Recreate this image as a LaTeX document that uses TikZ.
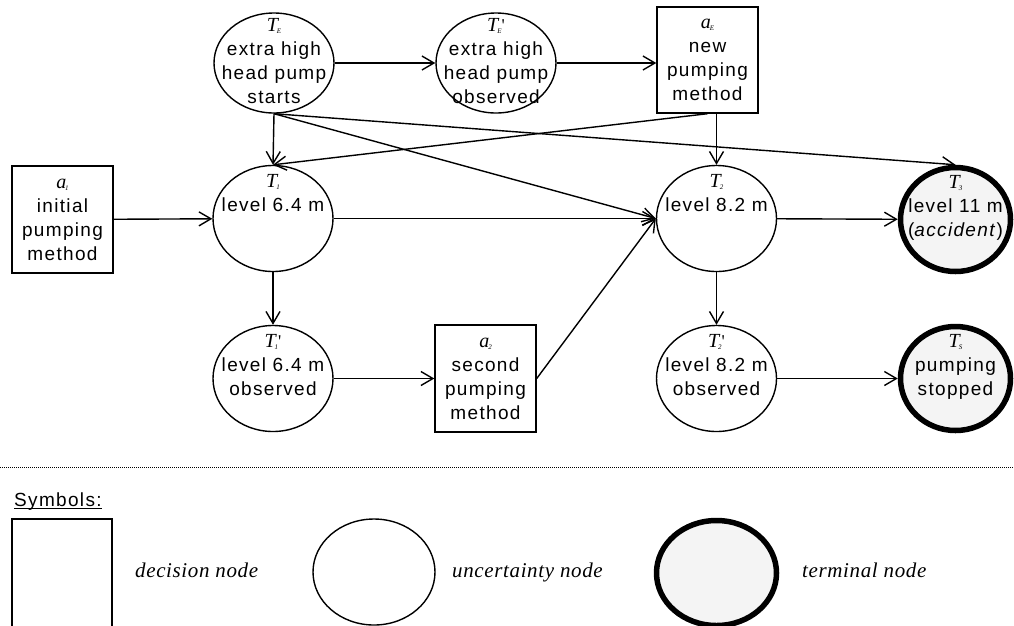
\documentclass[tikz,border=0pt]{standalone}
\usepackage{fontspec}
\setmainfont{Liberation Sans}[LetterSpace=7]
\newfontfamily\lblfont{Liberation Serif}
\newfontfamily\legfont{Liberation Serif}[LetterSpace=3]
\usetikzlibrary{shapes.geometric,arrows.meta}
\definecolor{termgray}{HTML}{F4F4F4}
% variable name: italic serif letter with a small subscript
\newcommand\sym[2]{{\lblfont\itshape\fontsize{20}{20}\selectfont #1}\kern-1pt\raisebox{-2pt}{\lblfont\itshape\fontsize{7}{7}\selectfont #2}}
\newcommand\symp[2]{\sym{#1}{#2}{\lblfont\fontsize{18}{18}\selectfont\textquotesingle}}
\begin{document}
\begin{tikzpicture}[x=1pt,y=-1pt,
  txt/.style={font=\fontsize{19}{24}\selectfont, align=center, inner sep=0pt},
  unc/.style={ellipse, draw, line width=1.4pt, inner sep=0pt, minimum width=120pt, minimum height=106pt},
  term/.style={ellipse, draw, line width=5.5pt, fill=termgray, inner sep=0pt, minimum width=110pt, minimum height=104pt},
  dec/.style={rectangle, draw, line width=1.4pt, inner sep=0pt, minimum width=101pt, minimum height=106pt},
  arr/.style={line width=1.4pt, -{Straight Barb[length=12pt,width=14pt,line width=1.4pt]}},
  legtxt/.style={font=\legfont\itshape\fontsize{21}{24}\selectfont, inner sep=0pt, anchor=base west}
]
\useasboundingbox (0,0) rectangle (1014,625);

% --- decision and uncertainty nodes of the diagram ---
\node[unc, minimum height=100pt] (TE) at (274,63) {};
\node[txt] (TEt) at (TE) {\sym{T}{E}\strut\\extra high\strut\\head pump\strut\\starts\strut};
\node[unc, minimum height=100pt] (TEp) at (496,63) {};
\node[txt] (TEpt) at (TEp) {\symp{T}{E}\strut\\extra high\strut\\head pump\strut\\observed\strut};
\node[dec] (aE) at (707.5,60) {};
\node[txt] (aEt) at (aE) {\sym{a}{E}\strut\\new\strut\\pumping\strut\\method\strut};

\node[dec, minimum height=107pt] (a1) at (62.5,219.5) {};
\node[txt] (a1t) at (a1) {\sym{a}{1}\strut\\initial\strut\\pumping\strut\\method\strut};
\node[unc] (T1) at (273,218.5) {};
\node[txt] (T1t) at (T1) {\sym{T}{1}\strut\\level 6.4 m\strut\\\strut\\\strut};
\node[unc] (T2) at (716.5,218.5) {};
\node[txt] (T2t) at (T2) {\sym{T}{2}\strut\\level 8.2 m\strut\\\strut\\\strut};
\node[term] (T3) at (955.5,219.5) {};
\node[txt] (T3t) at (T3) {\sym{T}{3}\strut\\level 11 m\strut\\(\textit{accident})\strut\\\strut};

\node[unc] (T1p) at (273,378.5) {};
\node[txt] (T1pt) at (T1p) {\symp{T}{1}\strut\\level 6.4 m\strut\\observed\strut\\\strut};
\node[dec, minimum height=107pt] (a2) at (485.5,378.5) {};
\node[txt] (a2t) at (a2) {\sym{a}{2}\strut\\second\strut\\pumping\strut\\method\strut};
\node[unc] (T2p) at (716.5,378.5) {};
\node[txt] (T2pt) at (T2p) {\symp{T}{2}\strut\\level 8.2 m\strut\\observed\strut\\\strut};
\node[term] (TS) at (955.5,378.5) {};
\node[txt] (TSt) at (TS) {\sym{T}{S}\strut\\pumping\strut\\stopped\strut\\\strut};

% --- influence arcs ---
\draw[arr] (TE) -- (TEp);
\draw[arr] (TEp.east) -- (TEp.east -| aE.west);
\draw[arr] (TE.south) -- (T1.north);
\draw[arr] (TE.south) -- (T2.west);
\draw[arr] (TE.south) -- (T3.north);
\draw[arr] (aE.south) -- (T1.north);
\draw[arr] (aE.south -| T2.north) -- (T2.north);
\draw[arr] (a1) -- (T1);
\draw[arr] (T1) -- (T2);
\draw[arr] (T2) -- (T3);
\draw[arr] (T1) -- (T1p);
\draw[arr] (T1p) -- (a2);
\draw[arr] (a2.east) -- (T2.west);
\draw[arr] (T2) -- (T2p);
\draw[arr] (T2p) -- (TS);

% --- separator ---
\coordinate (sepL) at (0,467);
\coordinate (sepR) at (1014,467);
\draw[line width=0.9pt, dash pattern=on 1pt off 1pt] (sepL) -- (sepR);

% --- legend ---
\node[font=\fontsize{19}{24}\selectfont, inner sep=0pt, anchor=base west] (sym) at (14,506) {Symbols:};
\draw[line width=1pt] ([yshift=-2.5pt]sym.base west) -- ([yshift=-2.5pt]sym.base east);
\node[dec, minimum width=100pt, minimum height=112pt] (legdec) at (62,575) {};
\node[legtxt] (legdect) at (135,577) {decision node};
\node[unc, minimum width=122pt] (legunc) at (374,572) {};
\node[legtxt] (legunct) at (452,577) {uncertainty node};
\node[term, minimum width=120pt, minimum height=105pt] (legterm) at (716.5,573) {};
\node[legtxt] (legtermt) at (802,577) {terminal node};
\end{tikzpicture}
\end{document}
